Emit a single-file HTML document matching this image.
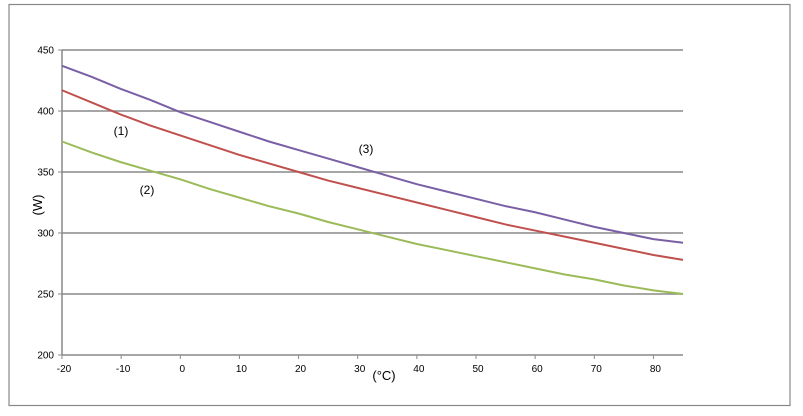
<!DOCTYPE html>
<html><head><meta charset="utf-8"><style>
body{margin:0;background:#fff;}
svg text{font-family:"Liberation Sans",sans-serif;fill:#000;}
</style></head><body>
<svg id="chart" width="803" height="411" xmlns="http://www.w3.org/2000/svg">
<rect x="9" y="4.5" width="781" height="401" fill="#fff" stroke="#888" stroke-width="1.2"/>
<g id="grid"></g><g id="axes"></g><g id="series"></g>
<text transform="translate(42,205) rotate(-90)" font-size="13" text-anchor="middle">(W)</text>
<text x="384" y="380" font-size="13" text-anchor="middle">(°C)</text>
<text x="121" y="135" font-size="12" text-anchor="middle">(1)</text>
<text x="147" y="194" font-size="12" text-anchor="middle">(2)</text>
<text x="366" y="153" font-size="12" text-anchor="middle">(3)</text>
</svg>
<script>
const temps=[-20,-15,-10,-5,0,5,10,15,20,25,30,35,40,45,50,55,60,65,70,75,80,85];
const series3=[437,428,418,409,399,391,383,375,368,361,354,347,340,334,328,322,317,311,305,300,295,292];
const series1=[417,407,397,388,380,372,364,357,350,343,337,331,325,319,313,307,302,297,292,287,282,278];
const series2=[375,366,358,351,344,336,329,322,316,309,303,297,291,286,281,276,271,266,262,257,253,250];
const yTicks=[200,250,300,350,400,450];
const xTicks=[-20,-10,0,10,20,30,40,50,60,70,80];
const NS="http://www.w3.org/2000/svg";
const X0=62,X1=683,Y0=355,Y1=50;
const xs=v=>X0+(v+20)/105*(X1-X0);
const ys=v=>Y0-(v-200)/250*(Y0-Y1);
function mk(t,a,p){const e=document.createElementNS(NS,t);for(const k in a)e.setAttribute(k,a[k]);document.getElementById(p).appendChild(e);return e;}
yTicks.forEach(v=>{
 if(v>200){const l=mk('line',{x1:X0,x2:X1,y1:ys(v),y2:ys(v),stroke:'#888','stroke-width':1.5},'grid');
 
 }
 const tk=mk('line',{x1:X0-4,x2:X0,y1:ys(v),y2:ys(v),stroke:'#888'},'axes');
 
 
 const t=mk('text',{x:X0-8,y:ys(v)+3.5,'font-size':10,'text-anchor':'end'},'axes');t.textContent=v;
 
 
});
xTicks.forEach(v=>{
 const tk=mk('line',{x1:xs(v),x2:xs(v),y1:Y0,y2:Y0+4,stroke:'#888'},'axes');
 
 
 const t=mk('text',{x:xs(v)+2,y:Y0+17,'font-size':10,'text-anchor':'middle'},'axes');t.textContent=v;
 
 
});
const xa=mk('line',{x1:X0,x2:X1,y1:Y0,y2:Y0,stroke:'#888','stroke-width':1.5},'axes');


const ya=mk('line',{x1:X0,x2:X0,y1:Y1,y2:Y0,stroke:'#888','stroke-width':1.5},'axes');


[[series3,'#7a5fa6','series-3-line'],[series1,'#c0504d','series-1-line'],[series2,'#9bbb59','series-2-line']].forEach(([d,c,n])=>{
 const p=mk('polyline',{points:d.map((v,i)=>xs(temps[i])+','+ys(v)).join(' '),fill:'none',stroke:c,'stroke-width':2},'series');
 
 
});
</script>
</body></html>
